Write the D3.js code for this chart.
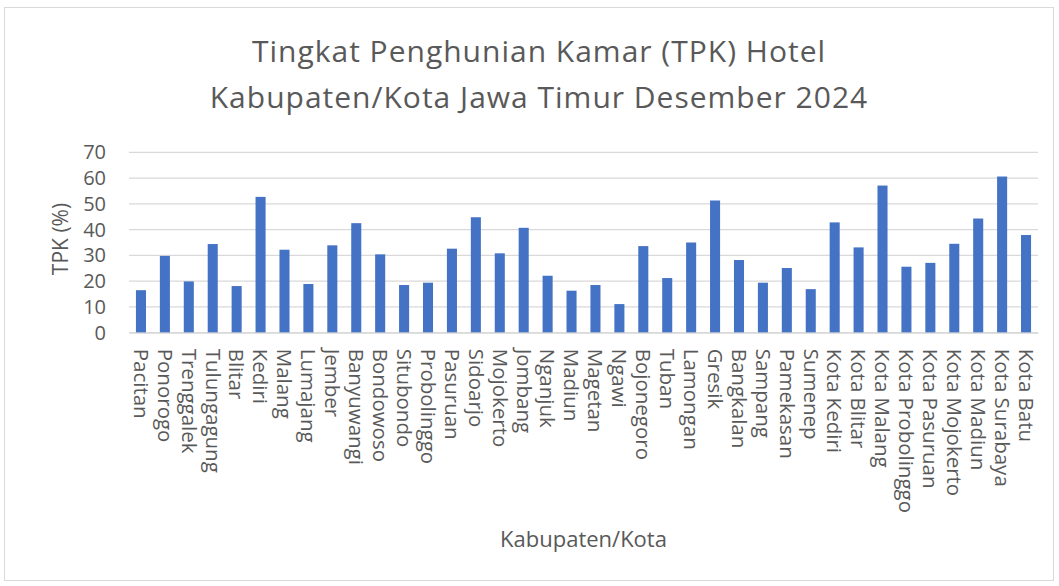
<!DOCTYPE html>
<html><head><meta charset="utf-8">
<script src="https://cdn.jsdelivr.net/npm/d3@7"></script>
<style>body{margin:0;background:#fff}svg{display:block}</style>
</head><body>
<svg id="c" width="1059" height="586"></svg>
<script>
const categories = ["Pacitan","Ponorogo","Trenggalek","Tulungagung","Blitar","Kediri","Malang","Lumajang","Jember","Banyuwangi","Bondowoso","Situbondo","Probolinggo","Pasuruan","Sidoarjo","Mojokerto","Jombang","Nganjuk","Madiun","Magetan","Ngawi","Bojonegoro","Tuban","Lamongan","Gresik","Bangkalan","Sampang","Pamekasan","Sumenep","Kota Kediri","Kota Blitar","Kota Malang","Kota Probolinggo","Kota Pasuruan","Kota Mojokerto","Kota Madiun","Kota Surabaya","Kota Batu"];
const tpk = [16.5,29.8,19.9,34.4,18.1,52.7,32.2,18.9,33.9,42.5,30.4,18.5,19.4,32.6,44.8,30.8,40.7,22.1,16.3,18.5,11.1,33.6,21.2,35.0,51.3,28.2,19.4,25.1,16.9,42.8,33.1,57.1,25.6,27.1,34.5,44.3,60.6,37.9];
const yTicks = [0,10,20,30,40,50,60,70];
const titleLines = ["Tingkat Penghunian Kamar (TPK) Hotel","Kabupaten/Kota Jawa Timur Desember 2024"];
const xTitle = "Kabupaten/Kota";
const yTitle = "TPK (%)";

const svg = d3.select("#c");
const font = "'Open Sans', sans-serif";
const txt = "#595959";
const L = 129, R = 1038, T = 152.3, B = 332.7;

svg.append("rect").attr("x",4.5).attr("y",7.5).attr("width",1049).attr("height",573)
  .attr("fill","#fff").attr("stroke","#d9d9d9").attr("stroke-width",1);

const x = d3.scaleBand().domain(categories).range([L,R]).paddingInner(0.58).paddingOuter(0.29);
const y = d3.scaleLinear().domain([0,70]).range([B,T]);

// gridlines
svg.append("g").selectAll("line").data(yTicks).join("line")
  .attr("x1",L).attr("x2",R).attr("y1",d=>y(d)).attr("y2",d=>y(d))
  .attr("stroke","#d9d9d9").attr("stroke-width",1.2);

// bars
svg.append("g").selectAll("rect").data(categories).join("rect")
  .attr("x",d=>x(d)).attr("width",x.bandwidth())
  .attr("y",(d,i)=>y(tpk[i])).attr("height",(d,i)=>B-y(tpk[i]))
  .attr("fill","#4472C4");

// y axis
const ya = svg.append("g").attr("transform",`translate(${L},0)`)
  .call(d3.axisLeft(y).tickValues(yTicks).tickSize(0).tickPadding(23));
ya.select(".domain").remove();
ya.selectAll("text").attr("font-family",font).attr("font-size",20).attr("fill",txt);

// x axis
const xa = svg.append("g").attr("transform",`translate(0,${B})`)
  .call(d3.axisBottom(x).tickSize(0));
xa.select(".domain").attr("stroke","#d9d9d9").attr("stroke-width",1.2);
xa.selectAll("text").attr("font-family",font).attr("font-size",20.5).attr("fill",txt)
  .attr("text-anchor","start").attr("transform","rotate(90)")
  .attr("x",16).attr("y",0).attr("dy","0.35em").attr("dx",0);

// titles
svg.append("g").selectAll("text").data(titleLines).join("text")
  .attr("x",539).attr("y",(d,i)=>62+i*46).attr("text-anchor","middle")
  .attr("font-family",font).attr("font-size",30).attr("letter-spacing",1).attr("fill",txt).text(d=>d);

svg.append("text").attr("x",(L+R)/2).attr("y",547).attr("text-anchor","middle")
  .attr("font-family",font).attr("font-size",22).attr("fill",txt).text(xTitle);

svg.append("text").attr("transform","translate(61,239) rotate(-90)").attr("text-anchor","middle")
  .attr("dy","0.35em")
  .attr("font-family",font).attr("font-size",21).attr("fill",txt).text(yTitle);
</script>
</body></html>
